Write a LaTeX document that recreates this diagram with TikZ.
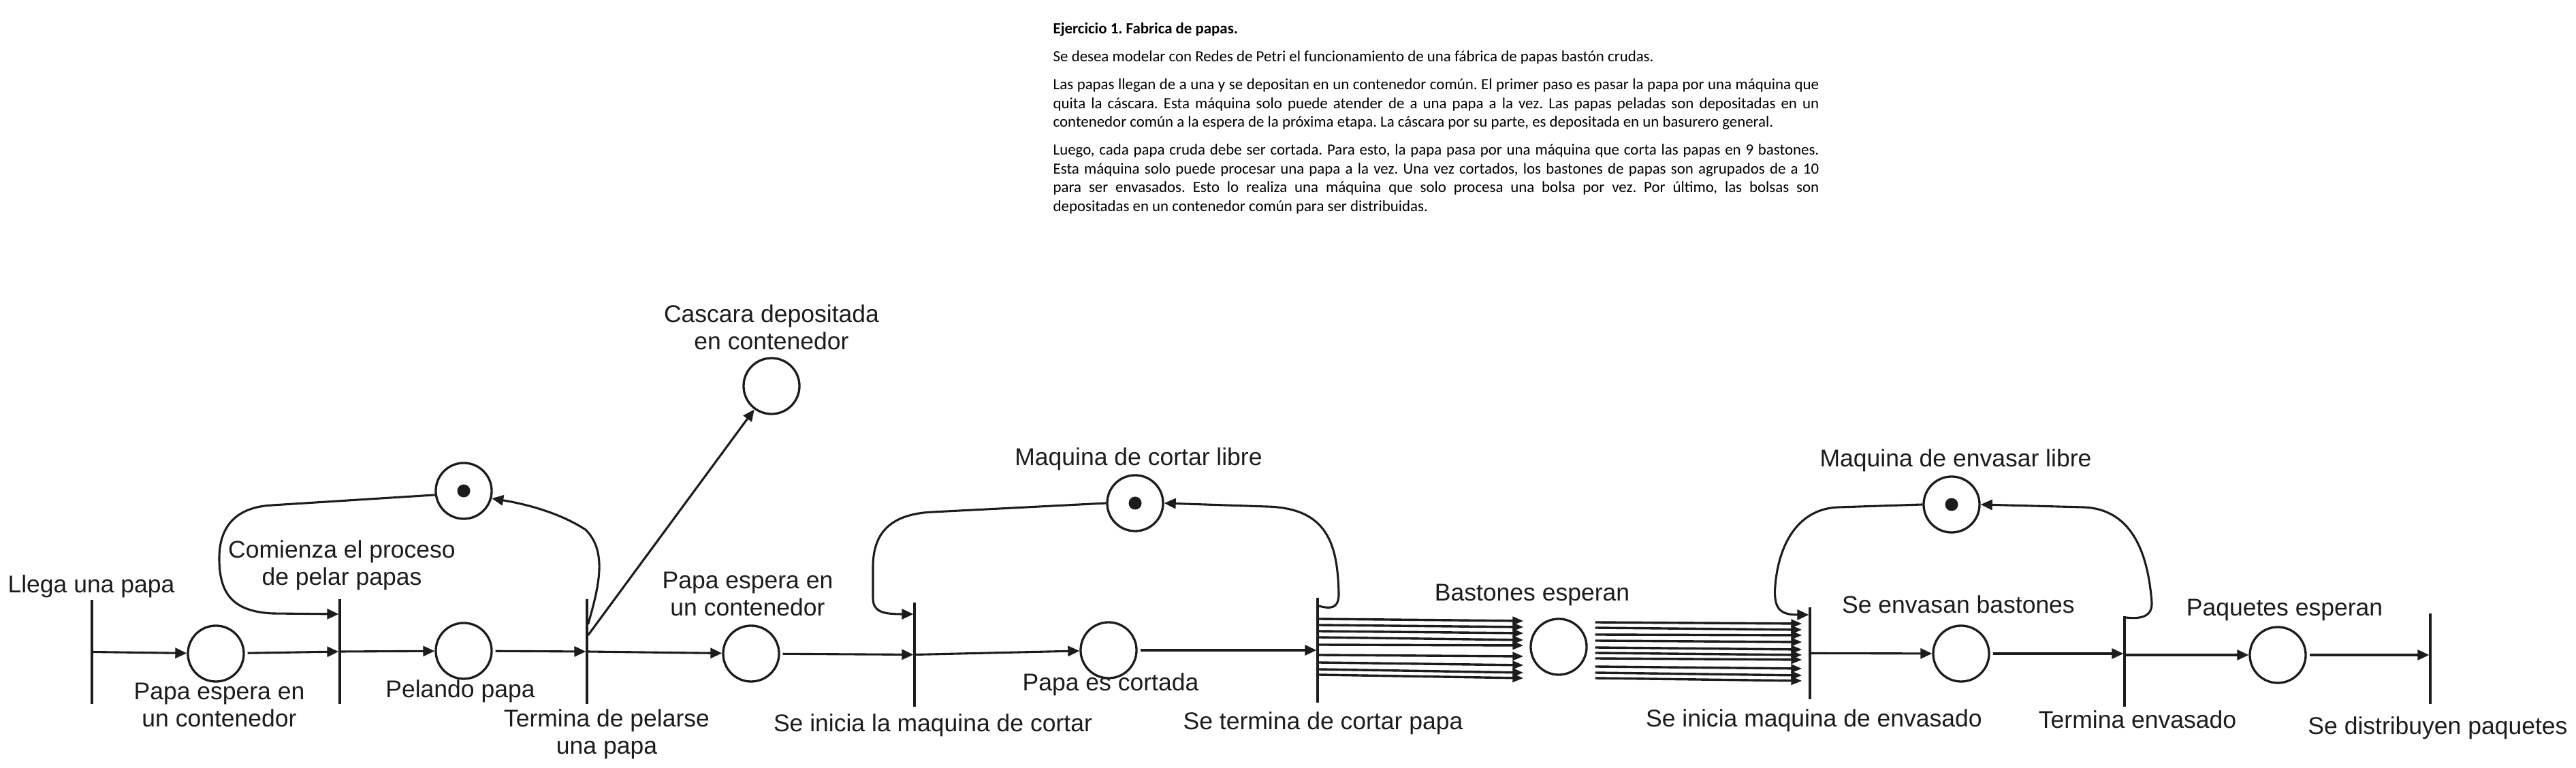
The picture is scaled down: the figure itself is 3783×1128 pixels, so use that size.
\documentclass[tikz,border=0pt]{standalone}
\usepackage{fontspec}
\newfontfamily\lsans{Liberation Sans}
\newfontfamily\calib{Carlito}
\usetikzlibrary{arrows.meta,calc}
\definecolor{ink}{RGB}{28,28,28}
\begin{document}
\begin{tikzpicture}[x=0.01cm,y=-0.01cm,
  pl/.style={circle,draw=ink,line width=0.033cm,minimum size=0.82cm,inner sep=0pt},
  tr/.style={rectangle,fill=ink,draw=none,minimum width=0.032cm,inner sep=0pt,outer sep=0pt},
  pnarc/.style={draw=ink,line width=0.031cm,-{Triangle[length=0.17cm,width=0.15cm]}},
  marc/.style={draw=ink,line width=0.034cm,-{Triangle[length=0.16cm,width=0.12cm]}},
  lbl/.style={font=\lsans\fontsize{10.1}{11.4}\selectfont,text=ink,inner sep=0pt,align=center,anchor=base},
  tok/.style={circle,fill=ink,minimum size=0.19cm,inner sep=0pt}
]
\useasboundingbox (0,0) rectangle (3783,1128);

% top text
\node[anchor=base west,text width=11.24cm,align=justify,inner sep=0pt,
  font={\calib\fontsize{6.5}{7.88}\selectfont\frenchspacing\parskip=3.7pt\parindent=0pt\hyphenpenalty=10000}] (txt) at (1546,50)
{\textbf{Ejercicio 1. Fabrica de papas.}\par
Se desea modelar con Redes de Petri el funcionamiento de una fábrica de papas bastón crudas.\par
Las papas llegan de a una y se depositan en un contenedor común. El primer paso es pasar la papa por una máquina que\linebreak
quita la cáscara. Esta máquina solo puede atender de a una papa a la vez. Las papas peladas son depositadas en un\linebreak
contenedor común a la espera de la próxima etapa. La cáscara por su parte, es depositada en un basurero general.\par
Luego, cada papa cruda debe ser cortada. Para esto, la papa pasa por una máquina que corta las papas en 9 bastones.\linebreak
Esta máquina solo puede procesar una papa a la vez. Una vez cortados, los bastones de papas son agrupados de a 10\linebreak
para ser envasados. Esto lo realiza una máquina que solo procesa una bolsa por vez. Por último, las bolsas son\linebreak
depositadas en un contenedor común para ser distribuidas.};

% transitions
\node[tr,minimum height=1.53cm] (t1) at (135,957.5) {};
\node[tr,minimum height=1.54cm] (t2) at (499,957) {};
\node[tr,minimum height=1.54cm] (t3) at (862,957) {};
\node[tr,minimum height=1.53cm] (t4) at (1343,961.5) {};
\node[tr,minimum height=1.54cm] (t5) at (1935,955) {};
\node[tr,minimum height=1.35cm] (t6) at (2658,959.5) {};
\node[tr,minimum height=1.33cm] (t7) at (3120,971.5) {};
\node[tr,minimum height=1.33cm] (t8) at (3569,967.5) {};

% places
\node[pl] (p1) at (317,960) {};
\node[pl] (r1) at (681,721) {};
\node[pl] (p2) at (681,956) {};
\node[pl] (pc) at (1133,567) {};
\node[pl] (p3) at (1103,960) {};
\node[pl] (r2) at (1667,739) {};
\node[pl] (p4) at (1628,955) {};
\node[pl] (p5) at (2289,950) {};
\node[pl] (r3) at (2866,741) {};
\node[pl] (p6) at (2880,960) {};
\node[pl] (p7) at (3345,962) {};
\node[tok] (k1) at (r1) {};
\node[tok] (k2) at (r2) {};
\node[tok] (k3) at (r3) {};

% labels (base = baseline of last line)
\node[lbl] (l1) at (134,871) {Llega una papa};
\node[lbl] (l2) at (322,1068) {Papa espera en\\un contenedor};
\node[lbl] (l3) at (502,860) {Comienza el proceso\\de pelar papas};
\node[lbl] (l4) at (676,1025) {Pelando papa};
\node[lbl] (l5) at (891,1108) {Termina de pelarse\\una papa};
\node[lbl] (l6) at (1133,514) {Cascara depositada\\en contenedor};
\node[lbl] (l7) at (1098,905) {Papa espera en\\un contenedor};
\node[lbl] (l8) at (1370,1075) {Se inicia la maquina de cortar};
\node[lbl] (l9) at (1672,684) {Maquina de cortar libre};
\node[lbl] (l10) at (1631,1015) {Papa es cortada};
\node[lbl] (l11) at (1943,1072) {Se termina de cortar papa};
\node[lbl] (l12) at (2250,883) {Bastones esperan};
\node[lbl] (l13) at (2664,1068) {Se inicia maquina de envasado};
\node[lbl] (l14) at (2872,686) {Maquina de envasar libre};
\node[lbl] (l15) at (2876,901) {Se envasan bastones};
\node[lbl] (l16) at (3139,1070) {Termina envasado};
\node[lbl] (l17) at (3355,905) {Paquetes esperan};
\node[lbl] (l18) at (3580,1079) {Se distribuyen paquetes};

% straight arcs
\draw[pnarc] (t1) -- (p1);
\draw[pnarc,shorten <=0.04cm] (p1) -- (t2);
\draw[pnarc] (t2) -- (p2);
\draw[pnarc,shorten <=0.04cm] (p2) -- (t3);
\draw[pnarc] (t3) -- (p3);
\draw[pnarc,shorten <=0.04cm] (p3) -- (t4);
\draw[pnarc] (t4) -- (p4);
\draw[pnarc,shorten <=0.04cm] (p4) -- (t5);
\draw[pnarc] (t6) -- (p6);
\draw[pnarc,shorten <=0.04cm] (p6) -- (p6 -| t7.west);
\draw[pnarc] (t7.east |- p7) -- (p7);
\draw[pnarc,shorten <=0.04cm] (p7) -- (p7 -| t8.west);
\draw[pnarc] ([yshift=0.24cm]t3.east) -- (pc);

% curved arcs (resources)
\draw[pnarc] (r1.188) -- (400,742) .. controls (340,745) and (322,780) .. (322,820)
  .. controls (322,870) and (340,898) .. (400,901) -- ([yshift=0.55cm]t2.west);
\draw[pnarc] ([yshift=0.40cm]t3.east) .. controls (880,860) and (892,810) .. (860,778)
  .. controls (820,752) and (770,740) .. (r1.345);
\draw[pnarc] (r2.west) -- (1370,752) .. controls (1300,755) and (1283,790) .. (1282,830)
  -- (1282,878) .. controls (1282,898) and (1295,902) .. ([yshift=0.595cm]t4.west);
\draw[pnarc] ([yshift=0.65cm]t5.east) .. controls (1952,894) and (1967,896) .. (1966,870)
  .. controls (1964,800) and (1950,746) .. (1860,744) -- (r2.east);
\draw[pnarc] (r3.west) -- (2700,745) .. controls (2640,747) and (2612,800) .. (2607,860)
  .. controls (2604,895) and (2615,903) .. ([yshift=0.565cm]t6.west);
\draw[pnarc] ([yshift=0.645cm]t7.east) .. controls (3140,909) and (3161,908) .. (3160,885)
  .. controls (3155,820) and (3135,748) .. (3060,745) -- (r3.east);

% multiple arcs
\foreach \a/\b in {46/38,37/29,28/20,19/10,8/2,-7/-14,-18/-27,-28/-38,-36/-46}
  \draw[marc] ([yshift=\a*0.01cm]t5.east) -- ([xshift=-0.09cm,yshift=\b*0.01cm]p5.west);
\foreach \a/\b in {36/43.5,28/34.5,18/26.5,9/16.5,-1/5.5,-9/-2.5,-17/-9.5,-29/-22.5,-38/-32.5,-46/-40.5}
  \draw[marc] ([xshift=0.11cm,yshift=\a*0.01cm]p5.east) -- ([xshift=-0.1cm,yshift=\b*0.01cm]t6.west);
\end{tikzpicture}
\end{document}
